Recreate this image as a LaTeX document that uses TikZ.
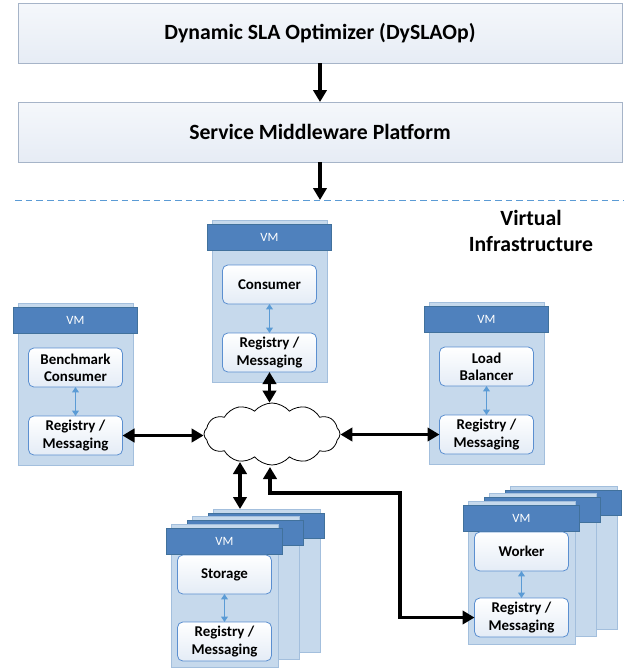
\documentclass[tikz,border=0pt]{standalone}
\usepackage{fontspec}
\setmainfont{Carlito}
\usetikzlibrary{arrows.meta,shapes.symbols,shadows}
\definecolor{hdr}{HTML}{4F81BD}
\definecolor{hdrb}{HTML}{41719C}
\definecolor{pnl}{HTML}{C6D9EC}
\definecolor{pnlb}{HTML}{A3BFDD}
\definecolor{ibox}{HTML}{5B8FD0}
\definecolor{lbl}{HTML}{5B9BD5}
\definecolor{topb}{HTML}{A6B4C8}
\definecolor{topf}{HTML}{E6ECF5}
\definecolor{inf}{HTML}{E4ECF6}
\tikzset{
 panel/.style={draw=pnlb, fill=pnl, line width=0.6pt, inner sep=0pt, outer sep=0pt, anchor=north west,
   drop shadow={shadow xshift=1pt, shadow yshift=-1pt, opacity=0.18}},
 header/.style={draw=hdrb, fill=hdr, line width=0.6pt, inner sep=0pt, outer sep=0pt, anchor=north west,
   text=white, font=\fontsize{9.5}{11}\selectfont},
 inbox/.style={draw=ibox, rounded corners=4pt, top color=white, bottom color=inf, line width=0.6pt,
   align=center, anchor=north west, inner sep=0pt, outer sep=0pt, font=\bfseries\fontsize{11.2}{13}\selectfont},
 topbox/.style={draw=topb, top color=white!60!topf, bottom color=topf, line width=0.7pt, inner sep=0pt,
   outer sep=0pt, anchor=north west, minimum width=604*0.75pt, minimum height=60*0.75pt,
   font=\bfseries\fontsize{16.3}{19}\selectfont},
 smallarr/.style={draw=lbl, line width=0.9pt, {Triangle[length=4pt,width=5pt]}-{Triangle[length=4pt,width=5pt]}},
 bigarr/.style={draw=black, line width=2.5pt, -{Triangle[length=9pt,width=10pt]}},
 bigdarr/.style={draw=black, line width=2.5pt, {Triangle[length=9pt,width=10pt]}-{Triangle[length=9pt,width=10pt]}},
}
% #1 name, #2 left, #3 top, #4 panel w, #5 panel h, #6 box x offset, #7 box top offset, #8 registry offset, #9 label
\newcommand\vmunit[9]{%
 \node[panel, minimum width=#4*0.75pt, minimum height=#5*0.75pt] (#1p) at (#2,#3) {};
 \node[header, minimum width={(#4+9)*0.75pt}, minimum height=26*0.75pt] (#1h) at ({#2-4.5},{#3+4}) {VM};
 \node[inbox, minimum width={(#4-2*#6)*0.75pt}, minimum height=39*0.75pt] (#1t) at ({#2+#6},{#3+#7}) {#9};
 \node[inbox, minimum width={(#4-2*#6)*0.75pt}, minimum height=39*0.75pt] (#1r) at ({#2+#6},{#3+#8}) {Registry /\\Messaging};
 \draw[smallarr] (#1t.south) -- (#1r.north);
}
% back layer: #1 name, #2 left, #3 top
\newcommand\vmback[3]{%
 \node[panel, minimum width=107*0.75pt, minimum height=143*0.75pt] (#1p) at (#2,#3) {};
 \node[header, minimum width=116*0.75pt, minimum height=25*0.75pt] (#1h) at ({#2-4.5},{#3+4}) {};
}
\begin{document}
\begin{tikzpicture}[x=0.75pt,y=-0.75pt]
\useasboundingbox (0,0) rectangle (628,669);
% top boxes
\node[topbox] (dys) at (18,3) {Dynamic SLA Optimizer (DySLAOp)};
\node[topbox] (smp) at (18,102) {Service Middleware Platform};
\coordinate (dashL) at (15,200);
\coordinate (dashR) at (624,200);
\draw[lbl, line width=0.6pt, dash pattern=on 5pt off 3pt] (dashL) -- (dashR);
\draw[bigarr] (dys.south) -- (smp.north);
\draw[bigarr] (smp.south) -- (smp.south |- dashL);
\node[font=\bfseries\fontsize{16.3}{19.5}\selectfont, align=center] (vi) at (531,231) {Virtual\\Infrastructure};
% VMs
\vmunit{cons}{212}{220}{115}{162}{10.5}{45}{113}{Consumer}
\vmunit{bench}{18}{303}{115}{162}{10.5}{45}{113}{Benchmark\\Consumer}
\vmunit{lb}{429}{302}{115}{162}{10.5}{45}{113}{Load\\Balancer}
% storage stack
\vmback{stc}{213}{509}
\vmback{stb}{192}{516}
\vmunit{st}{171}{524}{107}{143}{6.5}{31}{98}{Storage}
% worker stack
\vmback{wkc}{510}{486}
\vmback{wkb}{489}{493}
\vmunit{wk}{468}{501}{107}{143}{6.5}{31}{97}{Worker}
% cloud
\node[cloud, draw=black, fill=white, line width=0.6pt, cloud puffs=12, cloud puff arc=100, aspect=2.2,
  minimum width=136*0.75pt, minimum height=62*0.75pt, inner sep=0pt] (cloud) at (272,434) {};
% connectors
\draw[bigdarr] (benchr.east) -- (cloud.west |- benchr.east);
\draw[bigdarr] (cloud.east |- lbr.west) -- (lbr.west);
\draw[bigdarr] (consr.south) -- (consr.south |- cloud.north);
\coordinate (cbl) at (240,462);
\draw[bigdarr] (cbl) -- (cbl |- stcp.north);
\coordinate (cbm) at (270,467);
\coordinate (bend) at (400,493);
\draw[draw=black, line width=2.5pt, {Triangle[length=9pt,width=10pt]}-{Triangle[length=9pt,width=10pt]}, line join=miter]
  (cbm) |- (bend) |- (wkr.west);
\end{tikzpicture}
\end{document}
